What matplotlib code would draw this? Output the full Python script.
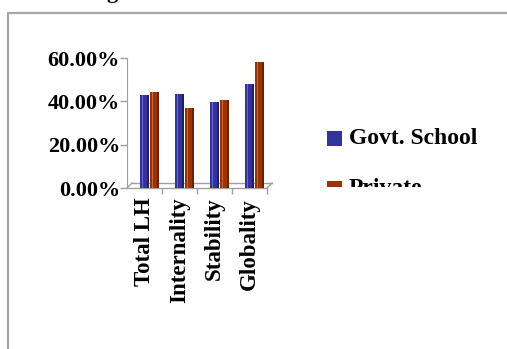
import matplotlib.pyplot as plt
import matplotlib.transforms as mtransforms
from matplotlib.lines import Line2D
from matplotlib.patches import Rectangle

categories = ["Total LH", "Internality", "Stability", "Globality"]
series_labels = ["Govt. School", "Private"]
govt = [43.0, 43.3, 39.6, 48.1]
private = [44.2, 36.8, 40.7, 58.1]
y_ticks = [0, 20, 40, 60]
y_tick_labels = ["0.00%", "20.00%", "40.00%", "60.00%"]

W, H = 507, 349
DPI = 100
colors = ["#333399", "#993300"]
highlights = ["#6a6acc", "#c8693a"]
shades = ["#1f1f6b", "#6b2000"]

plt.rcParams["font.family"] = ["Liberation Serif", "DejaVu Serif"]
plt.rcParams["font.weight"] = "bold"

fig = plt.figure(figsize=(W / DPI, H / DPI), dpi=DPI)


def px(x0, y0, x1, y1):
    # figure fraction box from pixel coords (top-left origin)
    return [x0 / W, 1 - y1 / H, (x1 - x0) / W, (y1 - y0) / H]


ax = fig.add_axes(px(127, 58, 267, 188))
x = list(range(len(categories)))
width = 0.27
offsets = [0.0, 0.29]

for vals, off, c, hl, sh in zip([govt, private], offsets, colors, highlights, shades):
    xs = [i + off for i in x]
    ax.bar(xs, vals, width=width, color=c, edgecolor="none", zorder=3)
    ax.bar([v - width * 0.22 for v in xs], vals, width=width * 0.18, color=hl, edgecolor="none", zorder=4)
    ax.bar([v + width * 0.38 for v in xs], vals, width=width * 0.2, color=sh, edgecolor="none", zorder=4)

ax.set_xlim(-0.5, 3.5)
ax.set_ylim(0, 60)
ax.set_yticks(y_ticks)
ax.set_yticklabels(y_tick_labels, fontsize=16, fontweight="bold")
ax.tick_params(axis="y", length=5, width=1, color="#a0a0a0", pad=0)

ax.set_xticks(x)
ax.set_xticklabels(categories, rotation=90, fontsize=16.5, fontweight="bold", va="top", ha="center")
ax.tick_params(axis="x", which="major", length=0, pad=7)
ax.set_xticks([0.5, 1.5, 2.5, 3.5], minor=True)
ax.tick_params(axis="x", which="minor", length=4, width=1, color="#a0a0a0")

for s in ["top", "right", "bottom"]:
    ax.spines[s].set_visible(False)
ax.spines["left"].set_color("#a0a0a0")

# 3D-looking floor
back = mtransforms.offset_copy(ax.transData, fig=fig, x=5, y=5, units="dots")
ax.plot([-0.5, 3.5], [0, 0], color="#a0a0a0", lw=1, clip_on=False, zorder=2)
ax.plot([-0.5, 3.5], [0, 0], color="#a0a0a0", lw=1, clip_on=False, zorder=2, transform=back)
ax.plot([-0.5, -0.5 + 5 / 35], [0, 5 / (130 / 60)], color="#a0a0a0", lw=1, clip_on=False, zorder=2)
ax.plot([3.5, 3.5 + 5 / 35], [0, 5 / (130 / 60)], color="#a0a0a0", lw=1, clip_on=False, zorder=2)

# legend, cut off at the bottom like the reference
for k, (lab, c) in enumerate(zip(series_labels, colors)):
    top = 131 + 50 * k
    fig.add_artist(Rectangle((327 / W, 1 - (top + 15) / H), 15 / W, 15 / H, transform=fig.transFigure,
                             facecolor=c, edgecolor="none"))
    fig.text(349 / W, 1 - (top + 7.5) / H, lab, fontsize=17, fontweight="bold", va="center", ha="left")
# white box hiding the lower part of the legend
fig.add_artist(Rectangle((300 / W, 1 - 220 / H), 205 / W, (220 - 186.5) / H, transform=fig.transFigure,
                         facecolor="white", edgecolor="none", zorder=10))

# outer frame
fig.add_artist(Line2D([8 / W, 8 / W, 1], [0, 1 - 12.5 / H, 1 - 12.5 / H], transform=fig.transFigure,
                      color="#a6a6a6", lw=1.6))
# descender of the title above the visible area
fig.text(112 / W, 1 + 1.5 / H, "g", fontsize=16, fontweight="bold", ha="center", va="baseline")

fig.savefig("out.png", dpi=DPI)
